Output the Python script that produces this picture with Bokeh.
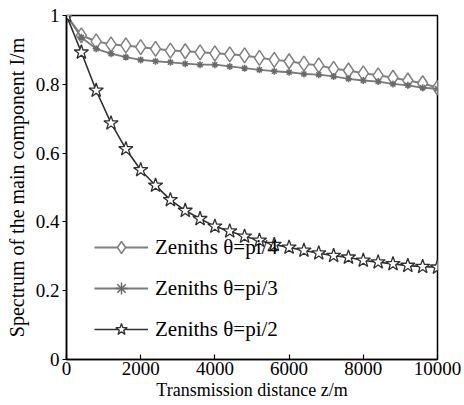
from bokeh.plotting import figure
from bokeh.models import Legend, LegendItem, FixedTicker, Range1d
from bokeh.embed import file_html
from bokeh.resources import INLINE

# data
z = [0, 400, 800, 1200, 1600, 2000, 2400, 2800, 3200, 3600, 4000, 4400, 4800,
     5200, 5600, 6000, 6400, 6800, 7200, 7600, 8000, 8400, 8800, 9200, 9600, 10000]
pi4 = [1.0, 0.942, 0.925, 0.916, 0.913, 0.908, 0.903, 0.898, 0.896, 0.893, 0.890,
       0.887, 0.884, 0.877, 0.871, 0.867, 0.860, 0.855, 0.845, 0.840, 0.832, 0.826,
       0.819, 0.811, 0.803, 0.790]
pi3 = [1.0, 0.937, 0.903, 0.889, 0.879, 0.871, 0.867, 0.864, 0.860, 0.857, 0.857,
       0.852, 0.847, 0.842, 0.838, 0.835, 0.830, 0.828, 0.823, 0.816, 0.811, 0.808,
       0.801, 0.797, 0.790, 0.787]
pi2 = [1.0, 0.893, 0.782, 0.687, 0.612, 0.551, 0.506, 0.464, 0.433, 0.409, 0.387,
       0.373, 0.358, 0.346, 0.334, 0.326, 0.317, 0.309, 0.302, 0.297, 0.288, 0.283,
       0.278, 0.273, 0.270, 0.268]
labels = ["Zeniths θ=pi/4", "Zeniths θ=pi/3", "Zeniths θ=pi/2"]
x_ticks = [0, 2000, 4000, 6000, 8000, 10000]
y_ticks = [0, 0.2, 0.4, 0.6, 0.8, 1]
y_tick_labels = ["0", "0.2", "0.4", "0.6", "0.8", "1"]

FONT = "Liberation Serif"

p = figure(frame_width=371, frame_height=344, output_backend="svg", toolbar_location=None,
           x_range=Range1d(0, 10000), y_range=Range1d(0, 1),
           min_border_left=66, min_border_right=27, min_border_top=15, min_border_bottom=46)
p.background_fill_color = "white"
p.border_fill_color = "white"
p.outline_line_color = "black"
p.outline_line_width = 1.5
p.grid.visible = False

r1l = p.line(z, pi4, line_color="#808080", line_width=2)
r1m = p.scatter(z, pi4, marker="diamond", size=15, line_color="#808080",
                line_width=1.5, fill_color="white")
r2l = p.line(z, pi3, line_color="#7a7a7a", line_width=1.8)
r2m = p.scatter(z, pi3, marker="asterisk", size=7, line_color="#6a6a6a", line_width=1.5)
r3l = p.line(z, pi2, line_color="#303030", line_width=1.6)
r3m = p.scatter(z, pi2, marker="star", size=15, line_color="#303030", line_width=1.3,
                fill_color="white")

legend = Legend(items=[LegendItem(label=labels[0], renderers=[r1l, r1m]),
                       LegendItem(label=labels[1], renderers=[r2l, r2m]),
                       LegendItem(label=labels[2], renderers=[r3l, r3m])],
                location=(23, 10), padding=5, spacing=11, glyph_height=30, glyph_width=54,
                label_standoff=7, background_fill_alpha=0, border_line_alpha=0,
                label_text_font=FONT, label_text_font_size="21px", label_text_color="black")
p.add_layout(legend)

for ax in (p.xaxis[0], p.yaxis[0]):
    ax.axis_line_color = "black"
    ax.axis_line_width = 1.5
    ax.major_tick_line_color = "black"
    ax.major_tick_line_width = 1.2
    ax.minor_tick_line_color = None
    ax.major_label_text_font = FONT
    ax.major_label_text_font_size = "19px"
    ax.major_label_text_color = "black"
    ax.axis_label_text_font = FONT
    ax.axis_label_text_font_style = "normal"
    ax.axis_label_text_color = "black"

p.xaxis.ticker = FixedTicker(ticks=x_ticks)
p.xaxis.major_tick_in = 5
p.xaxis.major_tick_out = 0
p.xaxis.major_label_standoff = 2
p.xaxis.axis_label = "Transmission distance z/m"
p.xaxis.axis_label_text_font_size = "18px"
p.xaxis.axis_label_standoff = 2

p.yaxis.ticker = FixedTicker(ticks=y_ticks)
p.yaxis.major_label_overrides = {t: s for t, s in zip(y_ticks, y_tick_labels)}
p.yaxis.major_tick_in = 0
p.yaxis.major_tick_out = 4
p.yaxis.major_label_standoff = 3
p.yaxis.axis_label = "Spectrum of the main component I/m"
p.yaxis.axis_label_text_font_size = "20px"
p.yaxis.axis_label_standoff = 5

open("out.html", "w").write(file_html(p, INLINE))
